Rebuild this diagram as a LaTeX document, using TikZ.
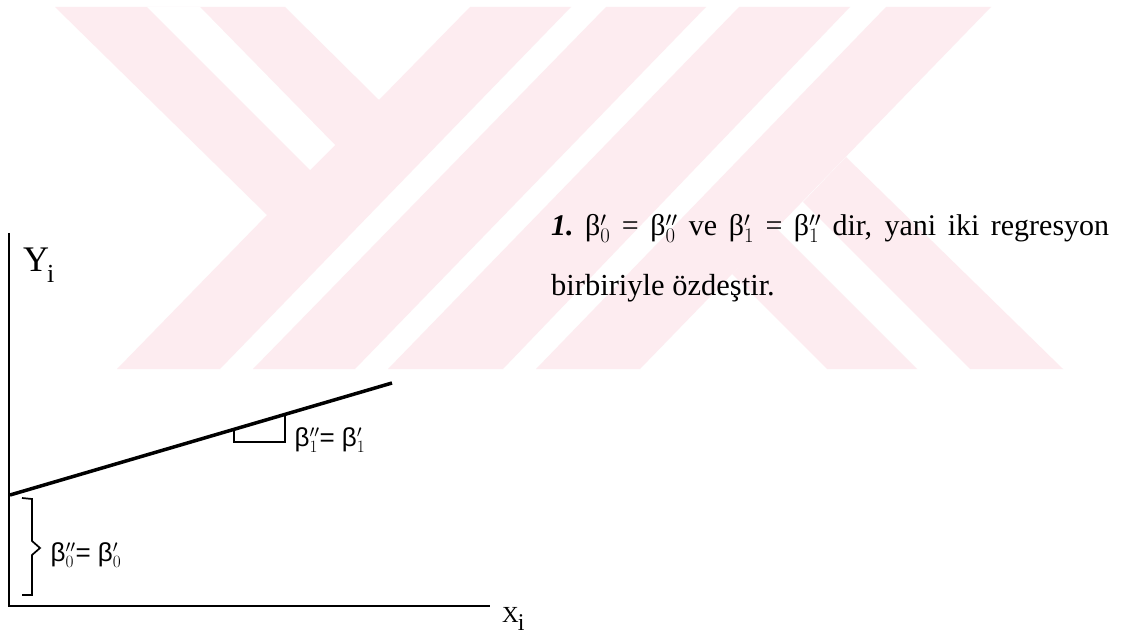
\documentclass[tikz,border=0pt]{standalone}
\usepackage{fontspec}
\setmainfont{Liberation Serif}
\newfontfamily\hand{Liberation Sans}
\definecolor{wm}{RGB}{253,236,240}
\tikzset{
  wmark/.style={fill=wm, draw=none},
  wgap/.style={fill=white, draw=none},
  axisline/.style={line width=2pt, black},
  regline/.style={line width=3.5pt, black},
  thinline/.style={line width=1.7pt, black, line join=miter},
  body/.style={font=\fontsize{30}{36}\selectfont, anchor=base west, inner sep=0pt},
  hlabel/.style={font=\hand\fontsize{26}{30}\selectfont, inner sep=0pt},
}
\begin{document}
\begin{tikzpicture}[x=1pt,y=-1pt]
\fill[white] (0,0) rectangle (1126,636);
\useasboundingbox (0,0) rectangle (1126,636);
% watermark
\fill[wmark] (55,7) -- (285,7) -- (379,100) -- (470,7) -- (571,7) -- (220,369) -- (117,369) -- (267,215) -- cycle;
\fill[wgap] (147,7) -- (200,7) -- (335,145) -- (310,170) -- cycle;
\fill[wmark] (253,369) -- (355,369) -- (706,7) -- (606,7) -- cycle;
\fill[wmark] (388,369) -- (503,369) -- (850,7) -- (739,7) -- cycle;
\fill[wmark] (536,369) -- (640,369) -- (991,7) -- (886,7) -- cycle;
\fill[wmark] (732,274) -- (827,369) -- (917,369) -- (776,228) -- cycle;
\fill[wmark] (803,202) -- (846,157) -- (1063,369) -- (970,369) -- cycle;
% text
\node[body] (t1) at (551,236) {\makebox[558pt][s]{\textbf{\textit{1.}}\ β$'_0$ = β$''_0$ ve β$'_1$ = β$''_1$ dir, yani iki regresyon}};
\node[body, font=\fontsize{30.5}{36}\selectfont] (t2) at (551,295) {birbiriyle özdeştir.};
% axes
\coordinate (ytop) at (9,233);
\coordinate (O) at (9,606);
\coordinate (xend) at (490,606);
\draw[axisline] (ytop) -- (O) -- (xend);
\node[anchor=base west, inner sep=0pt, font=\fontsize{36}{40}\selectfont] (ylab) at (23,272) {Y\kern-2pt\raisebox{-10pt}{\fontsize{26}{30}\selectfont i}};
\node[anchor=base west, inner sep=0pt, font=\fontsize{23}{28}\selectfont] (xlab) at (502,622) {X\kern-1pt\raisebox{-8pt}{\fontsize{24}{28}\selectfont i}};
% regression line
\coordinate (r0) at (10,495);
\coordinate (r1) at (392,383);
\draw[regline] (r0) -- (r1);
% slope triangle
\coordinate (s0) at (234,430);
\coordinate (s1) at (234,442);
\coordinate (s2) at (285,442);
\coordinate (s3) at (285,415);
\draw[thinline] (s0) -- (s1) -- (s2) -- (s3);
\node[hlabel] (b1) at (330,440) {β$^{\prime\prime}_{1}$= β$^{\prime}_{1}$};
% brace
\coordinate (c0) at (22,498);
\coordinate (c1) at (32,499);
\coordinate (c2) at (32,541);
\coordinate (c3) at (40,548);
\coordinate (c4) at (32,555);
\coordinate (c5) at (32,595);
\coordinate (c6) at (22,595);
\draw[thinline] (c0) -- (c1) -- (c2) -- (c3) -- (c4) -- (c5) -- (c6);
\node[hlabel] (b0) at (86,555) {β$^{\prime\prime}_{0}$= β$^{\prime}_{0}$};
\end{tikzpicture}
\end{document}
